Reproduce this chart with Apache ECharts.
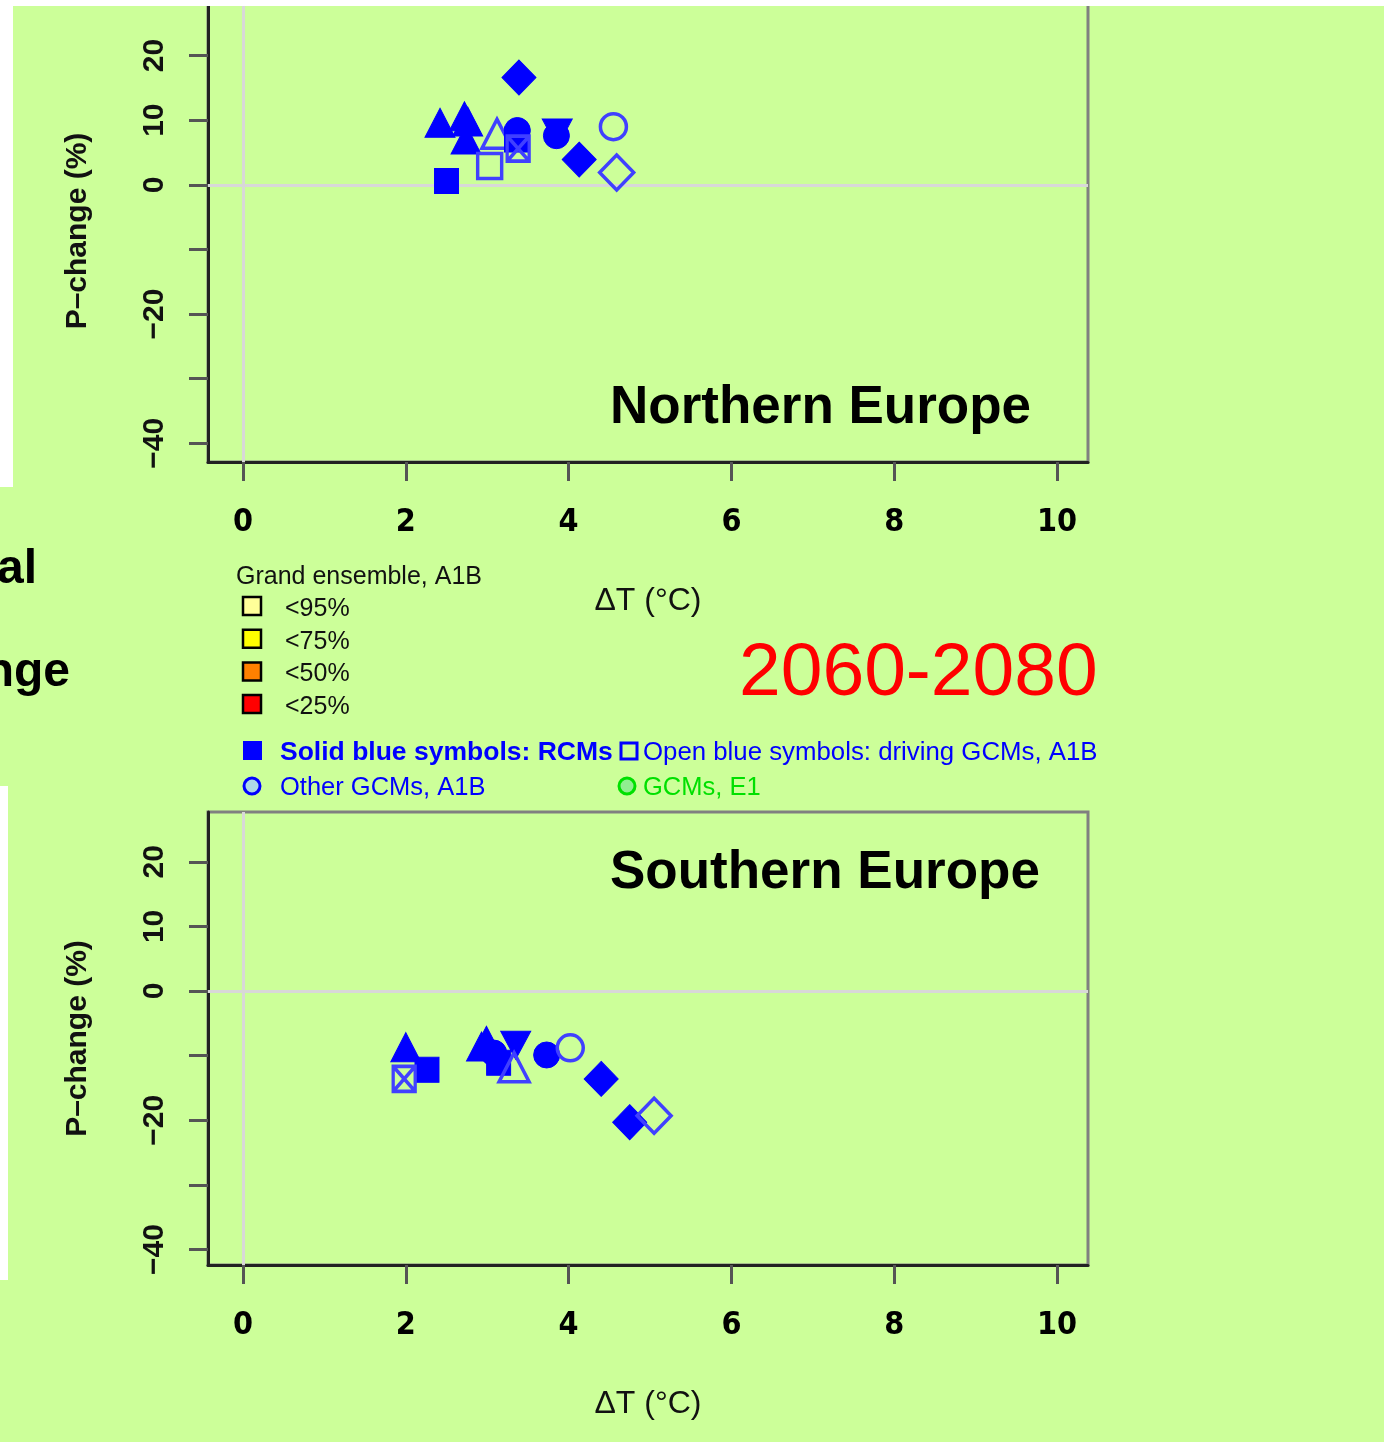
<!DOCTYPE html>
<html><head><meta charset="utf-8">
<script src="https://cdn.jsdelivr.net/npm/echarts@6/dist/echarts.min.js"></script>
<style>html,body{margin:0;padding:0;background:#fff}#c{width:1387px;height:1442px}</style>
</head><body><div id="c"></div>
<script>
// ---- data ----
var xTicks = [0, 2, 4, 6, 8, 10];
var yTicks = [-40, -30, -20, -10, 0, 10, 20];
var yLabels = [-40, -20, 0, 10, 20];

var northTitle = 'Northern Europe';
var north_dT = [2.50, 2.42, 2.72, 2.76, 2.74, 3.12, 3.03, 3.39, 3.37, 3.36, 3.38, 3.86, 3.85, 4.13, 4.55, 4.59];
var north_dP = [0.6, 9.6, 10.6, 9.8, 7.0, 7.9, 2.9, 16.6, 8.4, 7.0, 5.6, 8.0, 7.6, 3.9, 9.0, 1.9];
var north_shape = ['sq','tri','tri','tri','tri','tri','sq','dia','cir','sq','sqx','dtri','cir','dia','cir','dia'];
var north_filled = [1,1,1,1,1,0,0,1,1,1,0,1,1,1,0,0];

var southTitle = 'Southern Europe';
var south_dT = [2.00, 2.26, 1.98, 2.99, 2.93, 3.08, 3.14, 3.35, 3.33, 3.73, 4.02, 4.40, 4.75, 5.05];
var south_dP = [-8.7, -12.2, -13.6, -7.7, -8.6, -9.6, -11.1, -8.4, -11.8, -9.9, -8.8, -13.6, -20.3, -19.3];
var south_shape = ['tri','sq','sqx','tri','tri','cir','sq','dtri','tri','cir','cir','dia','dia','dia'];
var south_filled = [1,1,0,1,1,1,1,1,0,1,0,1,1,0];

var periodLabel = '2060-2080';
var ensembleTitle = 'Grand ensemble, A1B';
var ensembleLabels = ['<95%', '<75%', '<50%', '<25%'];
var ensembleColors = ['#ffff99', '#ffff00', '#ff8000', '#ff0000'];

// ---- styles ----
var BLUE = '#0000ff';
var FONT = '"Liberation Sans", Arial, sans-serif';
var NARROW = '"Liberation Sans Narrow", "DejaVu Sans Condensed", "Liberation Sans", sans-serif';
var shapeStyle = {
  sq:   {symbol: 'rect', size: [24, 25], rot: 0},
  tri:  {symbol: 'triangle', size: [30, 29], rot: 0},
  dtri: {symbol: 'triangle', size: [30, 28], rot: 180},
  dia:  {symbol: 'diamond', size: [34, 35], rot: 0},
  cir:  {symbol: 'circle', size: 26, rot: 0},
  sqx:  {symbol: 'path://M0,0L10,0L10,10L0,10Z M0,0L10,10 M10,0L0,10', size: [22, 25], rot: 0}
};

function buildPoints(xs, ys, shapes, filled) {
  return xs.map(function (x, i) {
    var s = shapeStyle[shapes[i]];
    var f = filled[i] === 1;
    return {
      value: [x, ys[i]],
      symbol: s.symbol,
      symbolSize: s.size,
      symbolRotate: s.rot,
      itemStyle: f ? {color: BLUE, borderColor: BLUE, borderWidth: 1, opacity: 1}
                   : {color: 'rgba(0,0,0,0)', borderColor: '#4040ff', borderWidth: 3.5, opacity: 1}
    };
  });
}

function xAxisFor(g) {
  return {
    gridIndex: g, type: 'value', min: -0.43, max: 10.38,
    splitLine: {show: false},
    axisLine: {show: true, onZero: false, lineStyle: {color: '#222', width: 3}},
    axisTick: {show: true, length: 19, customValues: xTicks, lineStyle: {color: '#555', width: 3}},
    axisLabel: {customValues: xTicks, margin: 45, fontSize: 32, fontWeight: 'bold', fontFamily: NARROW, color: '#000'},
    name: 'ΔT (°C)', nameLocation: 'middle', nameGap: 123,
    nameTextStyle: {fontSize: 32, fontFamily: FONT, color: '#111'}
  };
}
function yAxisFor(g, mn, mx) {
  return {
    gridIndex: g, type: 'value', min: mn, max: mx,
    splitLine: {show: false},
    axisLine: {show: true, onZero: false, lineStyle: {color: '#222', width: 3}},
    axisTick: {show: true, length: 19, customValues: yTicks, lineStyle: {color: '#555', width: 3}},
    axisLabel: {customValues: yLabels, rotate: 90, margin: 38, fontSize: 30, fontWeight: 'bold', fontFamily: FONT, color: '#111',
      formatter: function (v) { return v < 0 ? '\u2212' + Math.abs(v) : String(v); }},
    name: 'P\u2013change (%)', nameLocation: 'middle', nameGap: 115, nameRotate: 90,
    nameTextStyle: {fontSize: 30, fontWeight: 'bold', fontFamily: FONT, color: '#111'}
  };
}
function refLines(g) {
  return {
    type: 'scatter', xAxisIndex: g, yAxisIndex: g, data: [], silent: true, z: 1,
    markLine: {silent: true, symbol: 'none', label: {show: false}, animation: false,
      lineStyle: {color: '#d8d8d8', width: 3, type: 'solid'},
      data: [{xAxis: 0}, {yAxis: 0}]}
  };
}

var gridBase = {left: 208, width: 880, show: true, borderColor: '#808080', borderWidth: 3, backgroundColor: 'rgba(0,0,0,0)'};

var graphics = [];
function txt(x, y, text, size, opts) {
  opts = opts || {};
  graphics.push({type: 'text', x: x, y: y, z: opts.z || 50, style: {
    text: text, fontSize: size, fontFamily: FONT, fontWeight: opts.bold ? 'bold' : 'normal',
    fill: opts.color || '#000', align: opts.align || 'left', verticalAlign: 'middle'}});
}
// panel titles
txt(610, 408, northTitle, 53, {bold: true});
txt(610, 873, southTitle, 53, {bold: true});
// period label
txt(739, 674, periodLabel, 75, {color: '#ff0000'});
// partial side text
txt(37, 570, 'al', 48, {bold: true, align: 'right'});
txt(70, 673, 'nge', 48, {bold: true, align: 'right'});
// ensemble legend
txt(236, 577, ensembleTitle, 25, {color: '#111'});
ensembleLabels.forEach(function (l, i) {
  var cy = 606 + i * 32.7;
  graphics.push({type: 'rect', z: 50, shape: {x: 243, y: cy - 9, width: 18, height: 18},
    style: {fill: ensembleColors[i], stroke: '#000', lineWidth: 2.5}});
  txt(285, cy + 3, l, 25, {color: '#111'});
});
// symbol legend
graphics.push({type: 'rect', z: 50, shape: {x: 243, y: 741, width: 19, height: 19}, style: {fill: BLUE}});
txt(280, 753, 'Solid blue symbols: RCMs', 26.5, {bold: true, color: BLUE});
graphics.push({type: 'rect', z: 50, shape: {x: 621, y: 743, width: 16, height: 16}, style: {fill: 'none', stroke: BLUE, lineWidth: 3}});
txt(643, 753, 'Open blue symbols: driving GCMs, A1B', 25.8, {color: BLUE});
graphics.push({type: 'circle', z: 50, shape: {cx: 252, cy: 786, r: 8}, style: {fill: '#add8e6', stroke: BLUE, lineWidth: 3}});
txt(280, 788, 'Other GCMs, A1B', 25.5, {color: BLUE});
graphics.push({type: 'circle', z: 50, shape: {cx: 627, cy: 786, r: 8}, style: {fill: '#90ee90', stroke: '#00e000', lineWidth: 3}});
txt(643, 788, 'GCMs, E1', 25.5, {color: '#00e000'});
// white page margins
[[0, 0, 1387, 6], [0, 6, 13, 481], [0, 786, 8, 494], [1384, 0, 3, 1442]].forEach(function (r) {
  graphics.push({type: 'rect', z: 100, shape: {x: r[0], y: r[1], width: r[2], height: r[3]}, style: {fill: '#ffffff'}});
});

var chart = echarts.init(document.getElementById('c'), null, {renderer: 'canvas'});
chart.setOption({
  animation: false,
  backgroundColor: '#ccff99',
  grid: [
    Object.assign({top: 0, height: 462}, gridBase),
    Object.assign({top: 812, height: 453}, gridBase)
  ],
  xAxis: [xAxisFor(0), xAxisFor(1)],
  yAxis: [yAxisFor(0, -42.9, 28.6), yAxisFor(1, -42.4, 27.7)],
  series: [
    refLines(0), refLines(1),
    {type: 'scatter', xAxisIndex: 0, yAxisIndex: 0, z: 5, data: buildPoints(north_dT, north_dP, north_shape, north_filled)},
    {type: 'scatter', xAxisIndex: 1, yAxisIndex: 1, z: 5, data: buildPoints(south_dT, south_dP, south_shape, south_filled)}
  ],
  graphic: graphics
});
</script></body></html>
